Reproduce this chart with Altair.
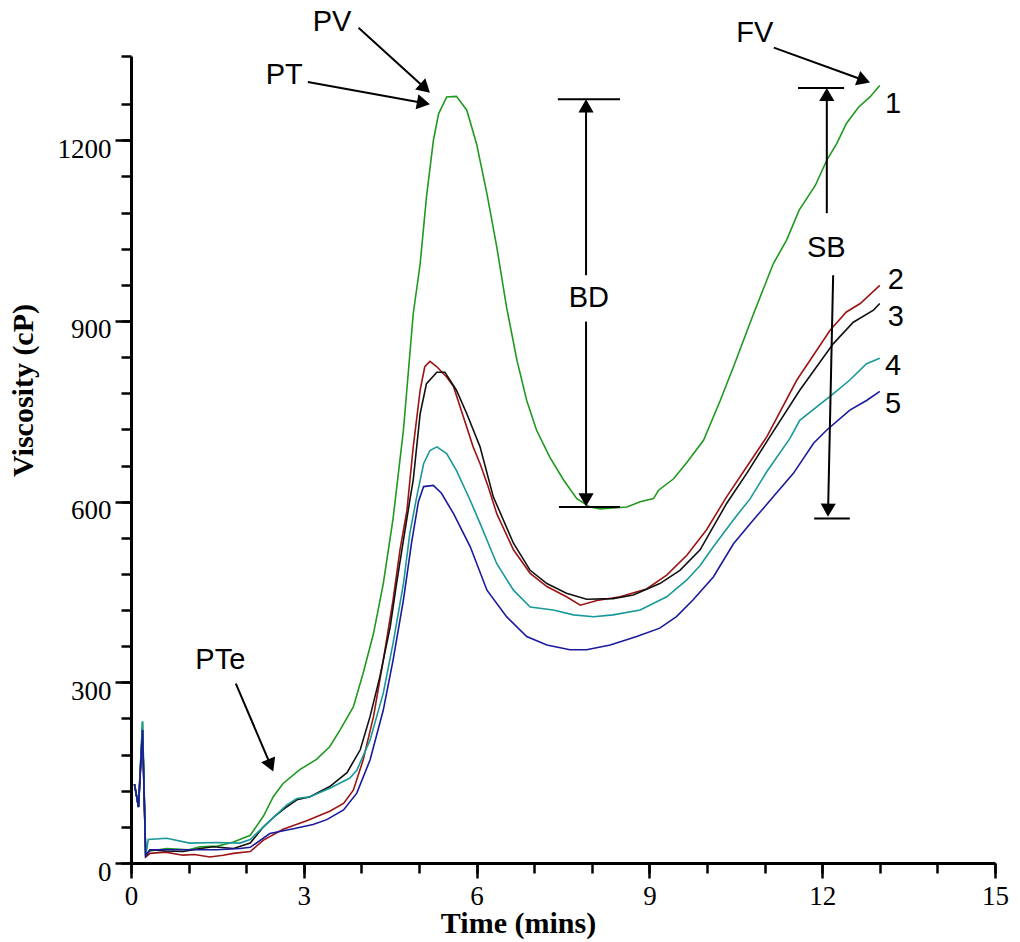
import math
import altair as alt
import pandas as pd

# ---------------- data ----------------
series_names = ["1", "2", "3", "4", "5"]
series_colors = ["#1f9a1f", "#9c1515", "#111111", "#1a9898", "#1a1a9c"]

t1 = [0.06, 0.13, 0.20, 0.255, 0.33, 0.62, 1.0, 1.2, 1.5, 1.78, 2.07, 2.30, 2.47, 2.64, 2.93, 3.22, 3.45,
      3.63, 3.86, 4.03, 4.21, 4.38, 4.55, 4.73, 4.90, 5.02, 5.13, 5.25, 5.34, 5.48, 5.65, 5.83, 6.00, 6.18,
      6.35, 6.52, 6.70, 6.87, 7.04, 7.27, 7.51, 7.74, 7.97, 8.15, 8.32, 8.61, 8.84, 9.07, 9.16, 9.42, 9.65,
      9.94, 10.23, 10.46, 10.80, 11.15, 11.38, 11.6, 11.88, 12.08, 12.25, 12.42, 12.63, 12.83, 13.0]
v1 = [131, 93, 235, 13, 20, 24, 22, 27, 28, 35, 46, 78, 110, 132, 155, 172, 193,
      221, 259, 315, 381, 464, 572, 719, 912, 995, 1106, 1200, 1244, 1272, 1273, 1250, 1194, 1111,
      1023, 923, 835, 768, 719, 674, 636, 605, 591, 588, 589, 591, 600, 605, 619, 638, 665,
      702, 768, 824, 910, 995, 1034, 1084, 1125, 1167, 1194, 1228, 1255, 1272, 1291]

t2 = [0.06, 0.13, 0.20, 0.255, 0.33, 0.6, 0.9, 1.1, 1.37, 1.6, 1.78, 2.07, 2.30, 2.64, 3.05, 3.45, 3.69,
      3.86, 4.03, 4.21, 4.38, 4.55, 4.67, 4.79, 4.90, 5.02, 5.10, 5.19, 5.31, 5.48, 5.60, 5.77, 5.94,
      6.06, 6.20, 6.35, 6.64, 6.93, 7.22, 7.56, 7.80, 8.09, 8.49, 8.95, 9.30, 9.65, 9.99, 10.34, 10.69,
      11.04, 11.56, 12.14, 12.42, 12.66, 13.0]
v2 = [131, 93, 221, 10, 16, 18, 13, 14, 10, 13, 16, 19, 38, 56, 70, 86, 99,
      121, 171, 243, 337, 437, 520, 585, 691, 785, 824, 833, 824, 807, 791, 741, 691,
      663, 625, 580, 520, 481, 459, 442, 428, 436, 442, 455, 478, 511, 553, 608, 658,
      708, 802, 885, 915, 929, 959]

t3 = [0.06, 0.13, 0.20, 0.255, 0.33, 0.6, 0.91, 1.2, 1.43, 1.78, 2.07, 2.30, 2.50, 2.70, 2.88, 3.11, 3.45,
      3.75, 3.98, 4.15, 4.32, 4.50, 4.61, 4.73, 4.84, 4.90, 5.02, 5.13, 5.31, 5.45, 5.65, 5.83, 6.06,
      6.29, 6.64, 6.93, 7.22, 7.56, 7.91, 8.37, 8.72, 9.18, 9.53, 9.88, 10.34, 10.69, 11.04, 11.61,
      12.19, 12.54, 12.89, 13.0]
v3 = [131, 93, 221, 12, 22, 20, 19, 24, 27, 24, 33, 60, 78, 93, 105, 110, 127,
      150, 188, 243, 309, 392, 464, 536, 602, 636, 746, 796, 815, 815, 785, 746, 691,
      608, 531, 486, 464, 448, 438, 439, 445, 464, 486, 520, 597, 647, 700, 785,
      862, 898, 918, 929]

t4 = [0.06, 0.13, 0.20, 0.255, 0.30, 0.62, 1.02, 1.49, 1.89, 2.07, 2.30, 2.70, 2.88, 3.11, 3.45, 3.80,
      3.92, 4.15, 4.38, 4.55, 4.73, 4.84, 4.96, 5.08, 5.19, 5.31, 5.48, 5.65, 5.89, 6.06, 6.35, 6.64,
      6.93, 7.33, 7.68, 8.03, 8.37, 8.84, 9.30, 9.65, 9.88, 10.11, 10.46, 10.75, 11.04, 11.44, 11.61,
      12.19, 12.48, 12.77, 13.0]
v4 = [131, 93, 235, 12, 39, 41, 33, 34, 33, 39, 60, 96, 107, 110, 124, 141,
      154, 204, 282, 365, 464, 547, 608, 663, 685, 691, 680, 652, 602, 564, 497, 453,
      425, 420, 412, 409, 412, 420, 442, 470, 494, 525, 570, 605, 650, 705, 735,
      779, 802, 829, 838]

t5 = [0.06, 0.13, 0.20, 0.255, 0.33, 0.91, 1.49, 1.89, 2.07, 2.41, 2.82, 3.16, 3.40, 3.69, 3.92, 4.15,
      4.38, 4.55, 4.73, 4.87, 4.99, 5.08, 5.25, 5.39, 5.60, 5.89, 6.18, 6.52, 6.87, 7.22, 7.62, 7.91,
      8.32, 8.78, 9.18, 9.47, 9.76, 10.11, 10.46, 10.80, 11.15, 11.50, 11.85, 12.08, 12.48, 12.77, 13.0]
v5 = [131, 93, 221, 12, 22, 22, 22, 24, 26, 49, 57, 64, 72, 88, 116, 171,
      254, 337, 437, 531, 600, 625, 627, 614, 580, 525, 453, 409, 376, 362, 354, 354,
      362, 376, 390, 409, 437, 475, 530, 569, 608, 647, 697, 719, 752, 768, 783]

# annotation labels (time, viscosity)
label_text = ["PV", "PT", "FV", "BD", "SB", "PTe", "1", "2", "3", "4", "5"]
label_t = [3.49, 2.66, 10.83, 7.95, 12.07, 1.55, 13.23, 13.28, 13.28, 13.23, 13.23]
label_v = [1396, 1308, 1378, 938, 1021, 337, 1260, 968, 907, 825, 762]

# arrows: start (t, v) -> tip (t, v)
arrow_t0 = [3.95, 3.07, 11.16, 1.82, 7.90, 7.90, 12.08, 12.19]
arrow_v0 = [1387, 1297, 1354, 298, 976, 899, 1079, 976]
arrow_t1 = [5.19, 5.19, 12.83, 2.47, 7.90, 7.90, 12.08, 12.10]
arrow_v1 = [1279, 1260, 1296, 152, 1268, 592, 1287, 575]

# horizontal bars of BD and SB
bar_t0 = [7.41, 7.43, 11.58, 11.86]
bar_t1 = [8.49, 8.49, 12.38, 12.48]
bar_v = [1268, 591, 1287, 572]

x_major = [0, 3, 6, 9, 12, 15]
x_minor = list(range(0, 16))
y_major = [0, 300, 600, 900, 1200]
y_minor = list(range(0, 1261, 60)) + [1340]

X_MAX, Y_MAX = 15, 1340
W, H = 864, 807

# ---------------- tables ----------------
rows = []
for name, ts, vs in zip(series_names, [t1, t2, t3, t4, t5], [v1, v2, v3, v4, v5]):
    for t, v in zip(ts, vs):
        rows.append({"series": name, "t": t, "v": v})
curves = pd.DataFrame(rows)

labels = pd.DataFrame({"t": label_t, "v": label_v, "label": label_text})

KX = W / X_MAX
KY = H / Y_MAX
HEAD_SIZE = 230
head_r = math.sqrt(3) / 4 * math.sqrt(HEAD_SIZE)

seg_rows, head_rows = [], []
for a0, b0, a1, b1 in zip(arrow_t0, arrow_v0, arrow_t1, arrow_v1):
    dx = (a1 - a0) * KX
    dy = -(b1 - b0) * KY
    L = math.hypot(dx, dy)
    ux, uy = dx / L, dy / L
    ang = math.degrees(math.atan2(ux, -uy)) % 360
    ct = a1 - head_r * ux / KX
    cv = b1 + head_r * uy / KY
    seg_rows.append({"t": a0, "v": b0, "t2": ct, "v2": cv})
    head_rows.append({"t": ct, "v": cv, "ang": ang})
for a0, a1, b in zip(bar_t0, bar_t1, bar_v):
    seg_rows.append({"t": a0, "v": b, "t2": a1, "v2": b})
segs = pd.DataFrame(seg_rows)
heads = pd.DataFrame(head_rows)

# ---------------- chart ----------------
xscale = alt.Scale(domain=[0, X_MAX], nice=False, zero=False)
yscale = alt.Scale(domain=[0, Y_MAX], nice=False, zero=False)

serif = "Liberation Serif"
sans = "Liberation Sans"

x_axis_major = alt.Axis(
    orient="bottom", values=x_major, format="d", tickSize=15, tickWidth=2.5, tickColor="black",
    domain=True, domainWidth=3, domainColor="black", grid=False,
    labelFont=serif, labelFontSize=27, labelColor="black", labelPadding=5,
    labelFlush=False, labelOverlap=False,
    title="Time (mins)", titleFont=serif, titleFontSize=30, titleFontWeight="bold", titleColor="black",
    titleX=387, titleY=69, titleAlign="center", titleBaseline="alphabetic",
)
y_axis_major = alt.Axis(
    orient="left", values=y_major, format="d", tickSize=16, tickWidth=2.5, tickColor="black",
    domain=True, domainWidth=3, domainColor="black", grid=False,
    labelFont=serif, labelFontSize=27, labelColor="black", labelPadding=4,
    labelBaseline="alphabetic", labelOffset=17, labelFlush=False, labelOverlap=False,
    title="Viscosity (cP)", titleFont=serif, titleFontSize=30, titleFontWeight="bold", titleColor="black",
    titleX=-108, titleY=334, titleAngle=270, titleAlign="center", titleBaseline="middle",
)
x_axis_minor = alt.Axis(orient="bottom", values=x_minor, tickSize=10, tickWidth=2.5, tickColor="black",
                        labels=False, domain=False, grid=False, title="")
y_axis_minor = alt.Axis(orient="left", values=y_minor, tickSize=10, tickWidth=2.5, tickColor="black",
                        labels=False, domain=False, grid=False, title="")

lines = alt.Chart(curves).mark_line(strokeWidth=1.6).encode(
    x=alt.X("t:Q", scale=xscale, axis=x_axis_major),
    y=alt.Y("v:Q", scale=yscale, axis=y_axis_major),
    color=alt.Color("series:N", scale=alt.Scale(domain=series_names, range=series_colors), legend=None),
    order=alt.Order("t:Q"),
)

rules = alt.Chart(segs).mark_rule(color="black", strokeWidth=2).encode(
    x=alt.X("t:Q", scale=xscale, axis=x_axis_minor),
    y=alt.Y("v:Q", scale=yscale, axis=y_axis_minor),
    x2="t2:Q",
    y2="v2:Q",
)

arrowheads = alt.Chart(heads).mark_point(shape="triangle-up", filled=True, size=HEAD_SIZE,
                                         color="black", opacity=1).encode(
    x=alt.X("t:Q", scale=xscale, axis=None),
    y=alt.Y("v:Q", scale=yscale, axis=None),
    angle=alt.Angle("ang:Q", scale=None),
)

texts = alt.Chart(labels).mark_text(font=sans, fontSize=29, color="black",
                                    align="center", baseline="middle").encode(
    x=alt.X("t:Q", scale=xscale, axis=None),
    y=alt.Y("v:Q", scale=yscale, axis=None),
    text="label:N",
)

chart = alt.layer(lines, rules, arrowheads, texts).resolve_axis(
    x="independent", y="independent"
).properties(
    width=W, height=H,
    autosize=alt.AutoSizeParams(type="none"),
    padding={"left": 123, "top": 48, "right": 14, "bottom": 77},
    background="white",
).configure_view(strokeWidth=0)

chart.save("out.html", embed_options={"renderer": "svg", "actions": False})
